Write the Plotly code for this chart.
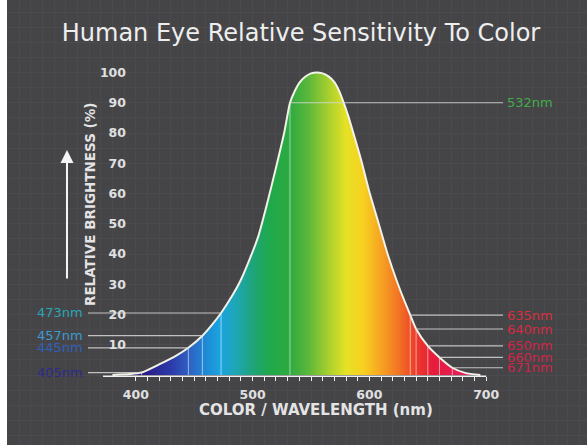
import plotly.graph_objects as go

# ---------------- data ----------------
curve_wl = [380, 395, 405, 420, 435, 445, 457, 465, 473, 483, 490, 498, 505, 512, 520, 527,
            532, 536, 540, 545, 550, 555, 560, 565, 570, 574, 578, 582, 587, 593, 600, 608,
            616, 624, 630, 635, 640, 650, 660, 671, 682, 695]
curve_val = [0, 0.3, 0.8, 3.5, 6.5, 9, 13, 16.5, 20.5, 26.5, 31.5, 38.8, 46, 56, 68.5, 80,
             90, 93.8, 96.6, 98.6, 99.7, 100, 99.7, 98.7, 96.8, 94, 90, 85.5, 79, 71, 60.5, 50,
             39.5, 30.5, 24.5, 19.8, 15.2, 9.6, 5.8, 2.4, 0.7, 0]

left_wl = [473, 457, 445, 405]
left_val = [20.5, 13, 9, 0.8]
left_txt = ["473nm", "457nm", "445nm", "405nm"]
left_col = ["#2aa6b4", "#3d9ad2", "#3060bc", "#2c2a8c"]

right_wl = [532, 635, 640, 650, 660, 671]
right_val = [90, 19.8, 15.2, 9.6, 5.8, 2.4]
right_txt = ["532nm", "635nm", "640nm", "650nm", "660nm", "671nm"]
right_col = ["#3fae48", "#d8303c", "#d42a42", "#d02446", "#d02446", "#d02446"]

x_tick_vals = list(range(400, 701, 10))
x_tick_text = [str(v) if v % 100 == 0 else "" for v in x_tick_vals]
y_tick_vals = [10, 20, 30, 40, 50, 60, 70, 80, 90, 100]

spec_wl = [390, 410, 430, 445, 460, 472, 485, 500, 515, 532, 548, 565, 580, 595, 610, 625, 640, 655, 675, 700]
spec_col = ["#1c1464", "#2a1f8a", "#2c3aa8", "#2f5fc2", "#1f8ad6", "#1aa4de", "#1ea6b8", "#1ea47a",
            "#1fa94a", "#2eaa40", "#5cb83a", "#a8cf2e", "#e6e225", "#f8d020", "#f6a322", "#f27424",
            "#ec3a2a", "#e61c3c", "#e61c55", "#e82a6a"]

# ---------------- layout constants ----------------
W, H = 587, 445
ML = 7
PX_PER_NM = 1.168
X_AT_550 = 311.0
PX_PER_UNIT = 3.025
Y_AT_0 = 375.0

xmin = 550 + (ML - X_AT_550) / PX_PER_NM
xmax = 550 + (W - X_AT_550) / PX_PER_NM
ymax = Y_AT_0 / PX_PER_UNIT
ymin = -(H - Y_AT_0) / PX_PER_UNIT


def px_to_wl(px):
    return 550 + (px - X_AT_550) / PX_PER_NM


LEFT_ANCHOR = px_to_wl(88)
RIGHT_ANCHOR = px_to_wl(503)
BASE_START = px_to_wl(103)

fig = go.Figure()

# grid carrier (overlay axes)
fig.add_trace(go.Scatter(x=[None], y=[None], xaxis="x2", yaxis="y2", hoverinfo="skip"))

# spectrum fill
lo, hi = spec_wl[0], spec_wl[-1]
cscale = [[(w - lo) / (hi - lo), c] for w, c in zip(spec_wl, spec_col)]
fig.add_trace(go.Scatter(
    x=curve_wl, y=curve_val, mode="lines", line=dict(width=0, shape="spline", smoothing=0.6),
    fill="tozeroy",
    fillgradient=dict(type="horizontal", colorscale=cscale, start=lo, stop=hi),
    hoverinfo="skip"))

# vertical white lines inside the fill
vx, vy = [], []
for w, v in zip(left_wl + right_wl, left_val + right_val):
    vx += [w, w, None]
    vy += [0, v, None]
fig.add_trace(go.Scatter(x=vx, y=vy, mode="lines",
                         line=dict(color="rgba(255,255,255,0.55)", width=1), hoverinfo="skip"))

# curve outline
fig.add_trace(go.Scatter(x=curve_wl, y=curve_val, mode="lines",
                         line=dict(color="#f2f2e8", width=2, shape="spline", smoothing=0.6),
                         hoverinfo="skip"))

# horizontal leader lines
hx, hy = [], []
for w, v in zip(left_wl, left_val):
    hx += [LEFT_ANCHOR, w, None]
    hy += [v, v, None]
for w, v in zip(right_wl, right_val):
    hx += [w, RIGHT_ANCHOR, None]
    hy += [v, v, None]
fig.add_trace(go.Scatter(x=hx, y=hy, mode="lines",
                         line=dict(color="rgba(215,215,215,0.85)", width=1.2), hoverinfo="skip"))

# baseline
fig.add_trace(go.Scatter(x=[BASE_START, 700], y=[-0.4, -0.4], mode="lines",
                         line=dict(color="#f0f0f0", width=1.5), hoverinfo="skip"))

# labels
for w, v, t, c in zip(left_wl, left_val, left_txt, left_col):
    fig.add_annotation(x=LEFT_ANCHOR, y=v, text=t, showarrow=False, xanchor="right", xshift=-3,
                       yanchor="middle",
                       font=dict(family="DejaVu Sans", size=13, color=c))
for w, v, t, c in zip(right_wl, right_val, right_txt, right_col):
    fig.add_annotation(x=RIGHT_ANCHOR, y=v, text=t, showarrow=False, xanchor="left", xshift=2,
                       yanchor="middle",
                       font=dict(family="DejaVu Sans", size=13, color=c))

# axis titles
fig.add_annotation(x=(316 - ML) / (W - ML), y=1 - 410 / H, xref="paper", yref="paper",
                   xanchor="center", yanchor="middle",
                   text="COLOR / WAVELENGTH (nm)", showarrow=False,
                   font=dict(family="DejaVu Sans", size=15, color="#e4e4e4", weight="bold"))
fig.add_annotation(x=(90 - ML) / (W - ML), y=1 - 205 / H, xref="paper", yref="paper",
                   xanchor="center", yanchor="middle",
                   text="RELATIVE BRIGHTNESS (%)", showarrow=False, textangle=-90,
                   font=dict(family="DejaVu Sans", size=13.5, color="#e4e4e4", weight="bold"))
# arrow
fig.add_annotation(x=(67 - ML) / (W - ML), y=1 - 150 / H, xref="paper", yref="paper",
                   ax=0, ay=130, text="", showarrow=True, arrowhead=2, arrowsize=1.3,
                   arrowwidth=2, arrowcolor="#f4f4f4")

axis_font = dict(family="DejaVu Sans", size=12.5, color="#e0e0e0", weight="bold")
fig.update_layout(
    width=W, height=H,
    margin=dict(l=ML, r=0, t=0, b=0),
    paper_bgcolor="#ffffff", plot_bgcolor="#454548",
    showlegend=False,
    title=dict(text="Human Eye Relative Sensitivity To Color", x=301 / W, y=1 - 33 / H,
               xref="container", yref="container", xanchor="center", yanchor="middle",
               font=dict(family="DejaVu Sans", size=24, color="#eeeeee")),
    xaxis=dict(range=[xmin, xmax], anchor="free", position=1 - 376 / H,
               tickmode="array", tickvals=x_tick_vals, ticktext=x_tick_text,
               ticks="outside", ticklen=4, tickwidth=1, tickcolor="#eeeeee",
               ticklabelstandoff=3,
               showgrid=False, zeroline=False, showline=False, tickfont=axis_font),
    yaxis=dict(range=[ymin, ymax], anchor="free", position=(126 - ML) / (W - ML),
               tickmode="array", tickvals=y_tick_vals, ticks="",
               showgrid=False, zeroline=False, showline=False, tickfont=axis_font),
    xaxis2=dict(range=[xmin, xmax], overlaying="x", anchor="y2", dtick=10, tick0=0,
                showgrid=True, gridcolor="#4b4b4f", gridwidth=1, showticklabels=False,
                zeroline=False, showline=False, ticks=""),
    yaxis2=dict(range=[ymin, ymax], overlaying="y", anchor="x2", dtick=5, tick0=0,
                showgrid=True, gridcolor="#4b4b4f", gridwidth=1, showticklabels=False,
                zeroline=False, showline=False, ticks=""),
)

fig.write_html("out.html", config={"displayModeBar": False},
               post_script="document.body.style.margin='0px';document.body.style.overflow='hidden';")
